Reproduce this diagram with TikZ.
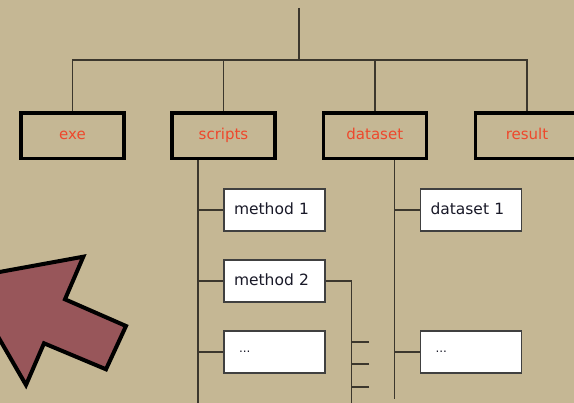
\documentclass[tikz,border=0pt]{standalone}
\usepackage{fontspec}
\setmainfont{DejaVu Sans}
\definecolor{bg}{RGB}{197,183,148}
\definecolor{linec}{RGB}{60,55,45}
\definecolor{labred}{RGB}{238,72,44}
\definecolor{arrowfill}{RGB}{152,86,90}
\definecolor{boxtext}{RGB}{25,25,40}
\tikzset{
  conn/.style={draw=linec, line width=1.6pt},
  topbox/.style={draw=black, line width=3.3pt, minimum width=103pt, minimum height=45.5pt,
    inner sep=0pt, text height=11pt, text depth=3pt, text=labred, font=\fontsize{15}{18}\selectfont},
  leafbox/.style={draw=black!75, line width=1.1pt, fill=white, minimum width=101pt, minimum height=42pt,
    inner xsep=10pt, inner ysep=0pt, text height=11.5pt, text depth=3pt, text width=81pt, align=left, text=boxtext,
    font=\fontsize{15.5}{18}\selectfont},
}
\newcommand{\leafdots}{\hspace*{5pt}\raisebox{4pt}{\fontsize{12}{12}\selectfont ...}}
\begin{document}
\begin{tikzpicture}[x=1pt,y=-1pt]
\fill[bg] (0,0) rectangle (574,403);
\useasboundingbox (0,0) rectangle (574,403);
% top-level boxes
\node[topbox] (exe) at (72.5,135.7) {exe};
\node[topbox] (scripts) at (223.5,135.7) {scripts};
\node[topbox] (dataset) at (374.8,135.7) {dataset};
\node[topbox] (result) at (527,135.7) {result};
% leaves
\node[leafbox] (m1) at (274.5,210) {method 1};
\node[leafbox] (m2) at (274.5,281) {method 2};
\node[leafbox] (mdots) at (274.5,352) {\leafdots};
\node[leafbox] (d1) at (471,210) {dataset 1};
\node[leafbox] (ddots) at (471,352) {\leafdots};
% coordinates
\coordinate (root) at (299,8);
\coordinate (bus) at (299,60);
\coordinate (sline) at (197.7,403);
\coordinate (dline) at (394.6,399);
\coordinate (mline) at (351.4,403);
\coordinate (t1) at (369,342.3);
\coordinate (t2) at (369,364);
\coordinate (t3) at (369,387.3);
% connectors
\draw[conn] (root) -- (bus);
\draw[conn] (exe.north) |- (bus);
\draw[conn] (scripts.north) |- (bus);
\draw[conn] (dataset.north) |- (bus);
\draw[conn] (result.north) |- (bus);
\draw[conn] (scripts.south -| sline) -- (sline);
\draw[conn] (m1.west) -- (m1.west -| sline);
\draw[conn] (m2.west) -- (m2.west -| sline);
\draw[conn] (mdots.west) -- (mdots.west -| sline);
\draw[conn] (dataset.south -| dline) -- (dline);
\draw[conn] (d1.west) -- (d1.west -| dline);
\draw[conn] (ddots.west) -- (ddots.west -| dline);
\draw[conn] (m2.east) -| (mline);
\draw[conn] (t1) -- (t1 -| mline);
\draw[conn] (t2) -- (t2 -| mline);
\draw[conn] (t3) -- (t3 -| mline);
% big arrow
\draw[line width=4pt, line join=miter, fill=arrowfill]
  (-35.6,278.4) -- (83.3,256.7) -- (65,299.3) -- (126,326) -- (106,369.3)
  -- (44,343.3) -- (26,385) -- cycle;
\end{tikzpicture}
\end{document}
